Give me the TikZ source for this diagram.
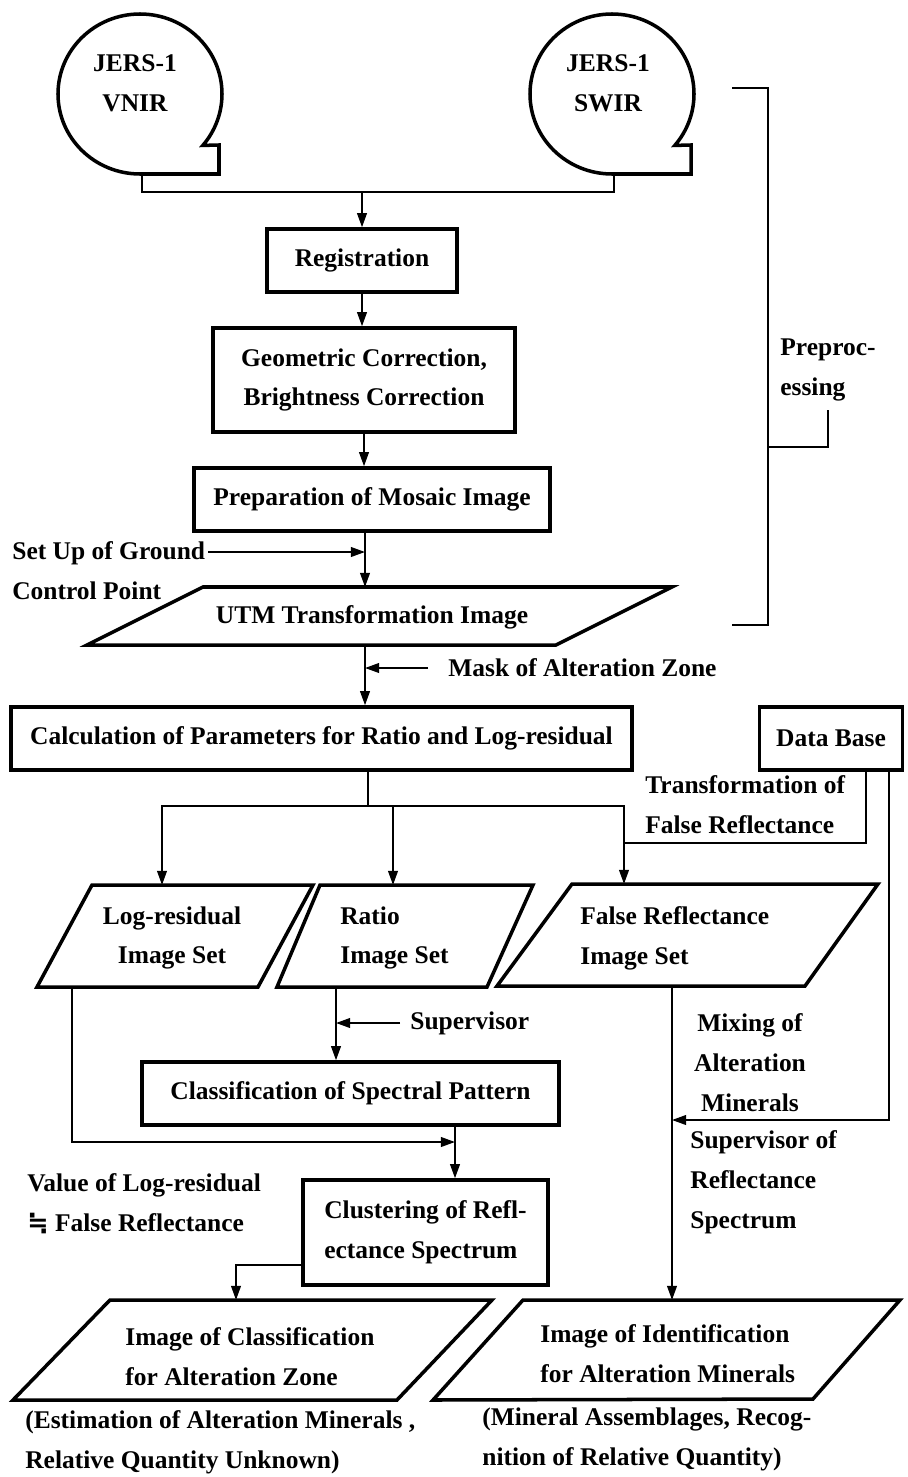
\documentclass[tikz,border=0pt]{standalone}
\usepackage{fontspec}
\setmainfont{Liberation Serif}
\newfontfamily\eqsym{DejaVu Sans}
\usetikzlibrary{arrows.meta, positioning, calc}

\tikzset{
  box/.style={draw, line width=2pt, inner sep=0pt},
  para/.style={draw, line width=2pt, line join=miter},
  tape/.style={draw, line width=2pt},
  lbl/.style={inner sep=0pt, align=left},
  ln/.style={line width=1pt},
  arr/.style={line width=1pt, -{Triangle[length=8pt,width=5.5pt]}},
}

\begin{document}
\begin{tikzpicture}[x=0.02cm, y=-0.02cm,
  every node/.style={font=\fontsize{14.5}{22.7}\selectfont\bfseries}]
  \useasboundingbox (0,0) rectangle (908,1477);

  % Sensors
  \draw[tape] (140,174) arc[start angle=90, end angle=400, x radius=82, y radius=80] -- (219,145) -- (219,174) -- cycle;
  \draw[tape] (612,174) arc[start angle=90, end angle=400, x radius=82, y radius=80] -- (691,145) -- (691,174) -- cycle;
  \node[align=center] (vnir) at (135,83) {JERS-1\\VNIR};
  \node[align=center] (swir) at (608,83) {JERS-1\\SWIR};
  \coordinate (vnirb) at (142,174);
  \coordinate (swirb) at (614,174);
  \coordinate (join) at (362,192);
  \draw[ln] (vnirb) |- (join) -| (swirb);

  % Preprocessing
  \node[box, minimum width=3.8cm, minimum height=1.26cm] (reg) at (362,260.5) {Registration};
  \node[box, minimum width=6.04cm, minimum height=2.08cm, align=center] (geo) at (364,380) {Geometric Correction,\\Brightness Correction};
  \node[box, minimum width=7.12cm, minimum height=1.26cm] (prep) at (372,499.5) {Preparation of Mosaic Image};
  \draw[arr] (join) -- (reg);
  \draw[arr] (reg.south) -- (reg.south |- geo.north);
  \draw[arr] (geo.south) -- (geo.south |- prep.north);

  \draw[para] (203,587) -- (672,587) -- (556,645) -- (87,645) -- cycle;
  \node (utm) at (372,617) {UTM Transformation Image};
  \coordinate (utmtop) at (365,587);
  \coordinate (utmbot) at (365,645);
  \draw[arr] (prep.south -| utmtop) -- (utmtop);

  \node[lbl, anchor=west] (gcp) at (12,571) {Set Up of Ground\\Control Point};
  \draw[arr] (208,552) -- (utmtop |- 0,552);

  \node[lbl, anchor=west] (mask) at (448,668) {Mask of Alteration Zone};
  \draw[arr] (mask.west) ++(-20,0) -- (mask.west -| utmtop);

  \coordinate (brtop) at (732,88);
  \coordinate (brbot) at (732,625);
  \draw[ln] (brtop) -- ++(36,0) |- (brbot);
  \draw[ln] (768,447) -| (828,410);
  \node[lbl, anchor=west] (preproc) at (780,370) {Preproc-\\essing};

  % Parameters
  \node[box, minimum width=12.42cm, minimum height=1.26cm] (calc) at (321.5,738.5) {Calculation of Parameters for Ratio and Log-residual};
  \node[box, minimum width=2.86cm, minimum height=1.26cm] (db) at (831,738.5) {Data Base};
  \draw[arr] (utmbot) -- (utmbot |- calc.north);

  \coordinate (fork) at (368,806);
  \coordinate (lrtop) at (162,885);
  \coordinate (ratop) at (393,885);
  \coordinate (fltop) at (624,884);
  \draw[ln] (calc.south -| fork) -- (fork);
  \draw[arr] (fork) -| (lrtop);
  \draw[arr] (fork) -| (fltop);
  \draw[arr] (fork -| ratop) -- (ratop);

  \coordinate (dbjoin) at (624,843);
  \draw[ln] ([xshift=0.7cm]db.south) |- (dbjoin);
  \node[lbl, anchor=west] (trans) at (645,805) {Transformation of\\False Reflectance};

  % Image sets
  \draw[para] (92,885) -- (313,885) -- (258,987) -- (37,987) -- cycle;
  \draw[para] (320,885) -- (533,885) -- (487,987) -- (277,987) -- cycle;
  \draw[para] (572,884) -- (878,884) -- (805,986) -- (497,986) -- cycle;
  \node[align=center] (logres) at (172,938) {Log-residual\\Image Set};
  \node[lbl, anchor=west] (ratio) at (340,938) {Ratio\\Image Set};
  \node[lbl, anchor=west] (falref) at (580,938) {False Reflectance\\Image Set};

  % Classification
  \node[box, minimum width=8.34cm, minimum height=1.26cm] (cls) at (350.5,1093.5) {Classification of Spectral Pattern};
  \node[box, minimum width=4.9cm, minimum height=2.1cm, align=left] (clu) at (425.5,1232.5) {Clustering of Refl-\\ectance Spectrum};

  \coordinate (rabot) at (336,987);
  \draw[arr] (rabot) -- (rabot |- cls.north);
  \node[lbl, anchor=west] (sup) at (410,1023) {Supervisor};
  \draw[arr] (sup.west) ++(-10,0) -- (sup.west -| rabot);

  \coordinate (lrbot) at (72,987);
  \coordinate (merge) at (455,1142);
  \draw[arr] (lrbot) |- (merge);
  \draw[arr] (cls.south -| merge) -- (clu.north -| merge);

  \node[lbl, anchor=west] (value) at (27,1204) {Value of Log-residual\\{\eqsym ≒} False Reflectance};

  \coordinate (cltop) at (236,1300);
  \draw[arr] ([yshift=-0.65cm]clu.west) -| (cltop);

  % Identification
  \coordinate (flbot) at (672,986);
  \coordinate (idtop) at (672,1300);
  \coordinate (supin) at (672,1120);
  \draw[arr] (flbot) -- (idtop);
  \draw[arr] ([xshift=1.16cm]db.south) |- (supin);
  \node[align=center] (mixing) at (750,1063) {Mixing of\\Alteration\\Minerals};
  \node[lbl, anchor=west] (supref) at (690,1182) {Supervisor of\\Reflectance\\Spectrum};

  % Results
  \draw[para] (110,1300) -- (492,1300) -- (397,1400) -- (13,1400) -- cycle;
  \draw[para] (523,1300) -- (900,1300) -- (813,1399) -- (433,1400) -- cycle;
  \node[lbl, anchor=west] (classimg) at (125,1357) {Image of Classification\\for Alteration Zone};
  \node[lbl, anchor=west] (identimg) at (540,1354) {Image of Identification\\for Alteration Minerals};
  \node[lbl, anchor=west] (classnote) at (25,1442) {(Estimation of Alteration Minerals ,\\Relative Quantity Unknown)};
  \node[lbl, anchor=west] (identnote) at (482,1439) {(Mineral Assemblages, Recog-\\nition of Relative Quantity)};
\end{tikzpicture}
\end{document}
